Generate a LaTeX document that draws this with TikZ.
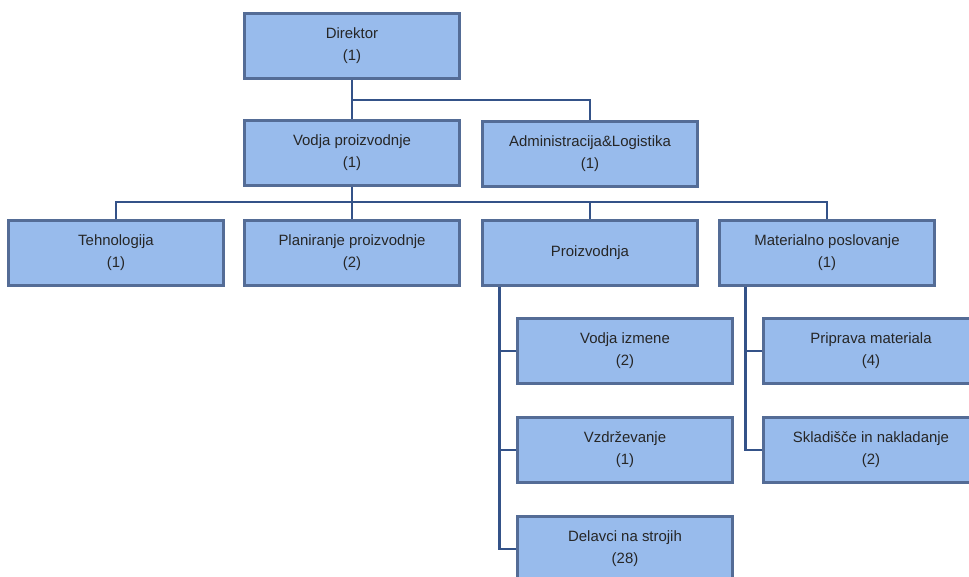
\documentclass[tikz,border=0pt]{standalone}
\usepackage{fontspec}
\setmainfont{Liberation Sans}
\usetikzlibrary{positioning}

\definecolor{boxfill}{RGB}{152,187,236}
\definecolor{boxline}{RGB}{84,108,150}
\definecolor{linkline}{RGB}{52,82,136}

\begin{document}
\begin{tikzpicture}[x=0.02cm, y=-0.02cm,
    unit/.style={draw=boxline, fill=boxfill, line width=1.25pt,
                 minimum width=4.3cm, minimum height=1.3cm, align=center,
                 text=black!85, font=\fontsize{8.5}{12.5}\selectfont},
    link/.style={draw=linkline, line width=1.4pt}]
    \path[use as bounding box, clip] (0,0) rectangle (969,576);

    \node[unit] (dir) at (352, 46) {Direktor\\(1)};
    \node[unit] (vp)  at (352,153) {Vodja proizvodnje\\(1)};
    \node[unit] (adm) at (590,154) {Administracija\&Logistika\\(1)};
    \node[unit] (teh) at (116,253) {Tehnologija\\(1)};
    \node[unit] (pla) at (352,253) {Planiranje proizvodnje\\(2)};
    \node[unit] (pro) at (590,253) {Proizvodnja};
    \node[unit] (mat) at (827,253) {Materialno poslovanje\\(1)};
    \node[unit] (vi)  at (625,351) {Vodja izmene\\(2)};
    \node[unit] (vz)  at (625,450) {Vzdrževanje\\(1)};
    \node[unit] (del) at (625,549) {Delavci na strojih\\(28)};
    \node[unit] (pri) at (871,351) {Priprava materiala\\(4)};
    \node[unit] (skl) at (871,450) {Skladišče in nakladanje\\(2)};

    \coordinate (top) at (352,100);
    \coordinate (mid) at (352,202);
    \coordinate (prox) at ([xshift=.36cm]pro.south west);
    \coordinate (matx) at ([xshift=.54cm]mat.south west);

    \draw[link] (dir.south) -- (vp.north);
    \draw[link] (top) -| (adm.north);
    \draw[link] (vp.south) -- (pla.north);
    \draw[link] (teh.north) |- (mid) -| (mat.north);
    \draw[link] (mid) -| (pro.north);
    \draw[link] (prox) |- (del.west);
    \draw[link] (vi.west) -- (vi.west -| prox);
    \draw[link] (vz.west) -- (vz.west -| prox);
    \draw[link] (matx) |- (skl.west);
    \draw[link] (pri.west) -- (pri.west -| matx);
\end{tikzpicture}
\end{document}
